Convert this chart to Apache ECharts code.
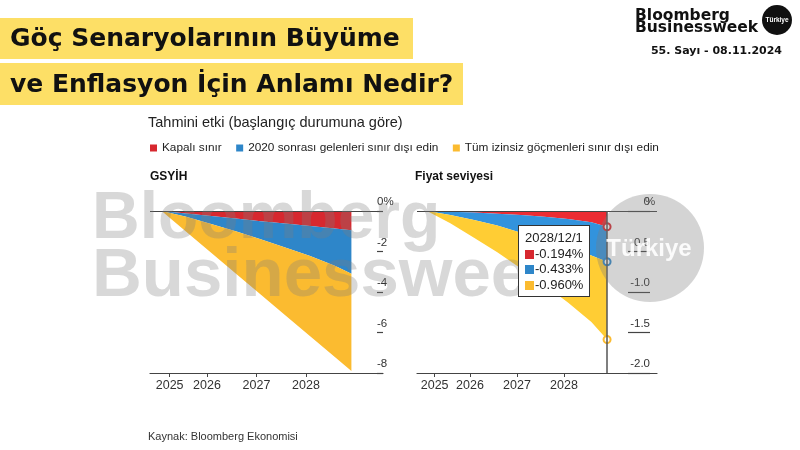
<!DOCTYPE html>
<html>
<head>
<meta charset="utf-8">
<script src="https://cdn.jsdelivr.net/npm/echarts@6/dist/echarts.min.js"></script>
<style>
html,body{margin:0;padding:0;background:#fff;}
#chart{width:800px;height:450px;}
</style>
</head>
<body>
<div id="chart"></div>
<script>
// ---- data ----
const dates = ['2025-02-01','2025-08-01','2026-02-01','2026-08-01','2027-02-01','2027-08-01','2028-02-01','2028-08-01','2028-12-01'];
const seriesNames = ['Kapalı sınır','2020 sonrası gelenleri sınır dışı edin','Tüm izinsiz göçmenleri sınır dışı edin'];
const gdpClosed     = [0,-0.12,-0.25,-0.37,-0.50,-0.62,-0.74,-0.87,-0.95];
const gdpDeport2020 = [0,-0.17,-0.39,-0.63,-0.90,-1.18,-1.48,-1.83,-2.15];
const gdpDeportAll  = [0,-0.74,-1.42,-2.09,-2.72,-3.35,-3.97,-4.51,-4.80];
const priceClosed     = [0,-0.01,-0.02,-0.035,-0.05,-0.07,-0.10,-0.14,-0.194];
const priceDeport2020 = [0,-0.04,-0.09,-0.145,-0.22,-0.28,-0.34,-0.41,-0.433];
const priceDeportAll  = [0,-0.10,-0.22,-0.33,-0.44,-0.56,-0.69,-0.82,-0.960];
const xTickDates  = ['2025-04-01','2026-01-01','2027-01-01','2028-01-01'];
const xTickLabels = ['2025','2026','2027','2028'];
const colors = ['#d7282f','#2e86c9','#fbbb30'];

function ts(s){ const p = s.split('-').map(Number); return Date.UTC(p[0], p[1]-1, p[2]); }
function pairs(vals){ return vals.map((v,i)=>[ts(dates[i]), v]); }
const tickVals = xTickDates.map(ts);
function yearLabel(v){ for(let i=0;i<tickVals.length;i++){ if(Math.abs(tickVals[i]-v) < 1000) return xTickLabels[i]; } return ''; }

const FONT = '"Liberation Sans", Arial, sans-serif';
const chart = echarts.init(document.getElementById('chart'), null, {useUTC: true});

function makeSeries(vals, idx, gridIdx, stackName){
  const s = {
    name: seriesNames[idx], type: 'line', stack: stackName,
    xAxisIndex: gridIdx, yAxisIndex: gridIdx,
    data: pairs(vals),
    showSymbol: false, symbol: 'emptyCircle', symbolSize: 7,
    lineStyle: {width: 0, opacity: 0},
    itemStyle: {color: colors[idx], borderWidth: 1.2},
    areaStyle: {color: colors[idx], opacity: 1},
    emphasis: {scale: false, focus: 'none', lineStyle: {width: 0}},
    z: 2
  };
  if (idx === 0) {
    s.markLine = {
      silent: true, symbol: ['none','none'], animation: false,
      label: {show: false},
      lineStyle: {type: 'solid', color: '#444', width: 1.2},
      emphasis: {disabled: true},
      data: [{yAxis: 0}]
    };
  }
  return s;
}

// time axis carrying the series (line only)
function timeAxisCfg(gridIdx, min, max){
  return {
    type: 'time', gridIndex: gridIdx, min: ts(min), max: ts(max), position: 'bottom',
    axisLine: {show: true, onZero: false, lineStyle: {color: '#444', width: 1.2}},
    axisTick: {show: false}, axisLabel: {show: false},
    splitLine: {show: false},
    axisPointer: {show: gridIdx === 1}
  };
}
// overlay axis with the same range carrying ticks and year labels
function tickAxisCfg(gridIdx, min, max){
  return {
    type: 'value', gridIndex: gridIdx, min: ts(min), max: ts(max), position: 'bottom',
    axisLine: {show: false, onZero: false},
    axisTick: {show: true, length: 4, lineStyle: {color: '#444'}, customValues: tickVals},
    axisLabel: {customValues: tickVals, formatter: yearLabel, fontSize: 12.5, color: '#333', fontFamily: FONT, margin: 6, hideOverlap: false},
    splitLine: {show: false},
    axisPointer: {show: false}
  };
}

const option = {
  animation: false,
  textStyle: {fontFamily: FONT},
  grid: [
    {left: 150, right: 800-383, top: 211, bottom: 77},
    {left: 417, right: 800-657, top: 211, bottom: 77}
  ],
  legend: {
    data: seriesNames, left: 150, top: 142, padding: 0, itemWidth: 7, itemHeight: 7, icon: 'rect',
    itemGap: 14.5, selectedMode: false,
    textStyle: {fontSize: 11.8, color: '#222', fontFamily: FONT},
    itemStyle: {opacity: 1}
  },
  xAxis: [
    timeAxisCfg(0, '2024-11-07', '2029-07-22'),
    timeAxisCfg(1, '2024-11-15', '2029-12-24'),
    tickAxisCfg(0, '2024-11-07', '2029-07-22'),
    tickAxisCfg(1, '2024-11-15', '2029-12-24')
  ],
  yAxis: [
    {
      type: 'value', gridIndex: 0, position: 'right', min: -8, max: 0, interval: 2,
      axisLine: {show: false},
      axisTick: {show: true, inside: true, length: 6, lineStyle: {color: '#444', width: 1.2}},
      axisLabel: {align: 'left', margin: -6, verticalAlign: 'bottom', padding: [0,0,3,0],
        fontSize: 11.5, color: '#333', fontFamily: FONT,
        formatter: v => v === 0 ? '0%' : String(v)},
      splitLine: {show: false}
    },
    {
      type: 'value', gridIndex: 1, position: 'right', offset: -7, min: -2, max: 0, interval: 0.5,
      axisLine: {show: false},
      axisTick: {show: true, inside: true, length: 22, lineStyle: {color: '#444', width: 1.2}},
      axisLabel: {align: 'right', margin: 0, verticalAlign: 'bottom', padding: [0,0,3,0],
        fontSize: 11.5, color: '#333', fontFamily: FONT,
        formatter: v => v === 0 ? '0{p|%}' : v.toFixed(1),
        rich: {p: {width: 0, fontSize: 11.5, color: '#333', fontFamily: FONT, align: 'left'}}},
      splitLine: {show: false}
    }
  ],
  tooltip: {
    trigger: 'axis', triggerOn: 'none', alwaysShowContent: true, transitionDuration: 0,
    position: [518, 225],
    backgroundColor: '#fff', borderColor: '#333', borderWidth: 1, borderRadius: 0,
    padding: [4, 6],
    extraCssText: 'box-shadow:none;',
    textStyle: {fontSize: 13, color: '#222', fontFamily: FONT},
    axisPointer: {type: 'line', lineStyle: {color: '#555', width: 1.5, type: 'solid'}, label: {show: false}},
    formatter: function(params){
      const p0 = dates[params[0].dataIndex].split('-').map(Number);
      let h = '<div style="line-height:15.5px">' + p0[0] + '/' + p0[1] + '/' + p0[2] + '</div>';
      params.forEach(p => {
        h += '<div style="line-height:15.5px"><span style="display:inline-block;width:9px;height:9px;background:' + p.color + ';margin-right:1px;vertical-align:-1px"></span>' + p.value[1].toFixed(3) + '%</div>';
      });
      return h;
    }
  },
  series: [
    makeSeries(gdpClosed, 0, 0, 'gdp'),
    makeSeries(gdpDeport2020, 1, 0, 'gdp'),
    makeSeries(gdpDeportAll, 2, 0, 'gdp'),
    makeSeries(priceClosed, 0, 1, 'price'),
    makeSeries(priceDeport2020, 1, 1, 'price'),
    makeSeries(priceDeportAll, 2, 1, 'price')
  ],
  graphic: [
    {type: 'rect', shape: {x: 0, y: 18, width: 413, height: 41}, style: {fill: '#fddf66'}, z: 0},
    {type: 'rect', shape: {x: 0, y: 63, width: 463, height: 42}, style: {fill: '#fddf66'}, z: 0},
    {type: 'text', x: 10, y: 39, style: {text: 'Göç Senaryolarının Büyüme', font: 'bold 25px "DejaVu Sans"', fill: '#111', textVerticalAlign: 'middle', verticalAlign: 'middle'}, z: 1},
    {type: 'text', x: 10, y: 85, style: {text: 've Enflasyon İçin Anlamı Nedir?', font: 'bold 25px "DejaVu Sans"', fill: '#111', textVerticalAlign: 'middle', verticalAlign: 'middle'}, z: 1},
    {type: 'text', x: 635, y: 15.5, style: {text: 'Bloomberg', font: 'bold 15.5px "DejaVu Sans"', fill: '#111', textVerticalAlign: 'middle', verticalAlign: 'middle'}},
    {type: 'text', x: 635, y: 27.5, style: {text: 'Businessweek', font: 'bold 15.5px "DejaVu Sans"', fill: '#111', textVerticalAlign: 'middle', verticalAlign: 'middle'}},
    {type: 'circle', shape: {cx: 777, cy: 20, r: 15}, style: {fill: '#111'}},
    {type: 'text', x: 777, y: 20, style: {text: 'Türkiye', font: 'bold 6.5px "Liberation Sans"', fill: '#fff', textAlign: 'center', align: 'center', textVerticalAlign: 'middle', verticalAlign: 'middle'}},
    {type: 'text', x: 782, y: 51, style: {text: '55. Sayı - 08.11.2024', font: 'bold 11px "DejaVu Sans"', fill: '#111', textAlign: 'right', align: 'right', textVerticalAlign: 'middle', verticalAlign: 'middle'}},
    {type: 'text', x: 148, y: 123, style: {text: 'Tahmini etki (başlangıç durumuna göre)', font: '14.5px ' + FONT, fill: '#222', textVerticalAlign: 'middle', verticalAlign: 'middle'}},
    {type: 'text', x: 150, y: 177, style: {text: 'GSYİH', font: 'bold 12px ' + FONT, fill: '#111', textVerticalAlign: 'middle', verticalAlign: 'middle'}},
    {type: 'text', x: 415, y: 177, style: {text: 'Fiyat seviyesi', font: 'bold 12px ' + FONT, fill: '#111', textVerticalAlign: 'middle', verticalAlign: 'middle'}},
    {type: 'text', x: 148, y: 437, style: {text: 'Kaynak: Bloomberg Ekonomisi', font: '11px ' + FONT, fill: '#333', textVerticalAlign: 'middle', verticalAlign: 'middle'}},
    {type: 'text', x: 92, y: 220, silent: true, z: 100, style: {text: 'Bloomberg', font: 'bold 66px "Liberation Sans"', fill: 'rgba(125,125,125,0.3)', textVerticalAlign: 'middle', verticalAlign: 'middle'}},
    {type: 'text', x: 92, y: 277, silent: true, z: 100, style: {text: 'Businessweek', font: 'bold 69px "Liberation Sans"', fill: 'rgba(125,125,125,0.3)', textVerticalAlign: 'middle', verticalAlign: 'middle'}},
    {type: 'circle', silent: true, z: 100, shape: {cx: 650, cy: 248, r: 54}, style: {fill: 'rgba(125,125,125,0.33)'}},
    {type: 'text', x: 649, y: 249, silent: true, z: 101, style: {text: 'Türkiye', font: 'bold 24px "Liberation Sans"', fill: 'rgba(255,255,255,0.9)', textAlign: 'center', align: 'center', textVerticalAlign: 'middle', verticalAlign: 'middle'}}
  ]
};

chart.setOption(option);
chart.dispatchAction({type: 'showTip', seriesIndex: 3, dataIndex: dates.length - 1});
</script>
</body>
</html>
